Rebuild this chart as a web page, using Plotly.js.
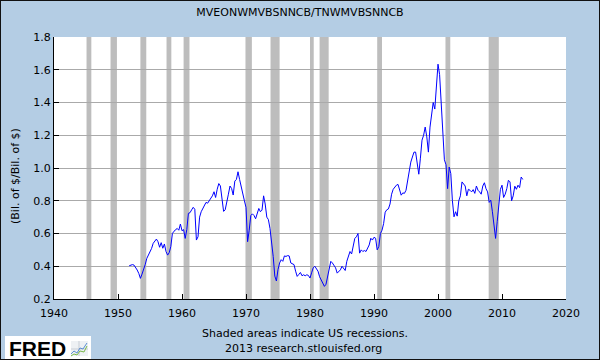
<!DOCTYPE html>
<html>
<head>
<meta charset="utf-8">
<script src="https://cdn.plot.ly/plotly-3.0.1.min.js"></script>
<style>
  html, body { margin: 0; padding: 0; background: #b4cde4; }
  #wrap { position: relative; width: 600px; height: 360px; }
  #chart { width: 600px; height: 360px; }
  #frame { position: absolute; left: 0; top: 0; width: 600px; height: 360px; box-sizing: border-box; border: 1px solid #111; pointer-events: none; }
</style>
</head>
<body>
<div id="wrap"><div id="chart"></div><div id="frame"></div></div>
<script>
// Quarterly ratio MVEONWMVBSNNCB / TNWMVBSNNCB, first value is 1951 Q4
const firstQuarter = 1951.75;
const q1950s = [0.403,
  0.409, 0.41, 0.407, 0.393,
  0.377, 0.356, 0.326, 0.352,
  0.377, 0.41, 0.448, 0.468,
  0.483, 0.509, 0.54, 0.556,
  0.566, 0.55, 0.516, 0.544,
  0.51, 0.536, 0.49, 0.468,
  0.483, 0.52, 0.60, 0.614,
  0.624, 0.631, 0.62, 0.658];
const q1960s = [
  0.617, 0.624, 0.57, 0.624,
  0.723, 0.727, 0.744, 0.76,
  0.748, 0.56, 0.58, 0.70,
  0.733, 0.753, 0.773, 0.79,
  0.785, 0.80, 0.814, 0.83,
  0.855, 0.82, 0.87, 0.905,
  0.89, 0.825, 0.735, 0.745,
  0.785, 0.84, 0.89, 0.875,
  0.835, 0.92, 0.93, 0.977,
  0.93, 0.88, 0.835, 0.80];
const q1970s = [
  0.76, 0.55, 0.62, 0.71,
  0.72, 0.71, 0.69, 0.727,
  0.753, 0.733, 0.743, 0.83,
  0.78, 0.70, 0.685, 0.63,
  0.55, 0.46, 0.34, 0.31,
  0.38, 0.42, 0.44, 0.43,
  0.463, 0.46, 0.465, 0.463,
  0.42, 0.415, 0.41, 0.37,
  0.338, 0.35, 0.362, 0.342,
  0.348, 0.342, 0.348, 0.344];
const q1980s = [
  0.328, 0.36, 0.39, 0.40,
  0.385, 0.37, 0.336, 0.317,
  0.29, 0.277, 0.29, 0.34,
  0.378, 0.43, 0.42, 0.40,
  0.39, 0.358, 0.37, 0.378,
  0.40, 0.39, 0.374, 0.43,
  0.46, 0.49, 0.475, 0.53,
  0.57, 0.58, 0.60, 0.48,
  0.50, 0.49, 0.496, 0.49,
  0.51, 0.53, 0.571, 0.56];
const q1990s = [
  0.577, 0.571, 0.50, 0.52,
  0.60, 0.62, 0.66, 0.73,
  0.745, 0.75, 0.78, 0.84,
  0.87, 0.885, 0.895, 0.90,
  0.864, 0.834, 0.848, 0.845,
  0.864, 0.92, 0.986, 1.036,
  1.067, 1.097, 1.097, 1.03,
  0.962, 1.06, 1.17, 1.20,
  1.25, 1.19, 1.097, 1.25,
  1.32, 1.40, 1.36, 1.52];
const q2000s = [
  1.634, 1.57, 1.37, 1.229,
  1.05, 1.02, 0.874, 1.006,
  0.966, 0.80, 0.702, 0.733,
  0.706, 0.80, 0.83, 0.915,
  0.90, 0.89, 0.83, 0.87,
  0.864, 0.854, 0.868, 0.845,
  0.89, 0.864, 0.854, 0.84,
  0.89, 0.91, 0.874, 0.854,
  0.79, 0.804, 0.733, 0.65,
  0.57, 0.672, 0.80, 0.87];
const q2010s = [
  0.895, 0.82, 0.84, 0.874,
  0.925, 0.915, 0.80, 0.83,
  0.889, 0.87, 0.895, 0.88,
  0.945, 0.93];

// NBER recessions (decimal years)
const recStart = [1945.083, 1948.833, 1953.5, 1957.583, 1960.25, 1969.917, 1973.833, 1980.0, 1981.5, 1990.5, 2001.167, 2007.917];
const recEnd   = [1945.833, 1949.833, 1954.417, 1958.333, 1961.167, 1970.917, 1975.25, 1980.583, 1982.917, 1991.25, 2001.917, 2009.5];

const xTickVals = [1940, 1950, 1960, 1970, 1980, 1990, 2000, 2010, 2020];
const yTickVals = [0.2, 0.4, 0.6, 0.8, 1.0, 1.2, 1.4, 1.6, 1.8];

const titleText = 'MVEONWMVBSNNCB/TNWMVBSNNCB';
const yTitleText = '(Bil. of $/Bil. of $)';
const noteLine1 = 'Shaded areas indicate US recessions.';
const noteLine2 = '2013 research.stlouisfed.org';

const values = [].concat(q1950s, q1960s, q1970s, q1980s, q1990s, q2000s, q2010s);
const dates = values.map((v, i) => firstQuarter + i * 0.25);

// layout geometry (pixels)
const W = 600, H = 360, L = 54, R = 34, T = 37, B = 61;
const PW = W - L - R, PH = H - T - B;
const px = x => (x - L) / PW;
const py = y => (H - B - y) / PH;

const FONT = 'DejaVu Sans, sans-serif';

const shapes = recStart.map((s, i) => ({
  type: 'rect', xref: 'x', yref: 'paper', x0: s, x1: recEnd[i], y0: 0, y1: 1,
  fillcolor: '#bdbdbd', line: {width: 0}, layer: 'between'
}));

// FRED logo box and icon
shapes.push({type: 'rect', xref: 'paper', yref: 'paper', x0: px(5), x1: px(91), y0: py(336), y1: py(359),
  fillcolor: '#ffffff', line: {width: 0}, layer: 'above'});
shapes.push({type: 'rect', xref: 'paper', yref: 'paper', x0: px(71), x1: px(88), y0: py(341), y1: py(356),
  fillcolor: '#eef1f4', line: {width: 0}, layer: 'above'});
function pathFrom(pts) {
  return pts.map((p, i) => (i ? 'L' : 'M') + px(p[0]).toFixed(5) + ',' + py(p[1]).toFixed(5)).join(' ');
}
shapes.push({type: 'path', xref: 'paper', yref: 'paper', layer: 'above',
  path: pathFrom([[71, 349], [88, 349]]), line: {color: '#c9ced6', width: 1}});
shapes.push({type: 'path', xref: 'paper', yref: 'paper', layer: 'above',
  path: pathFrom([[79, 341], [79, 356]]), line: {color: '#c9ced6', width: 1}});
shapes.push({type: 'path', xref: 'paper', yref: 'paper', layer: 'above',
  path: pathFrom([[71, 354], [74, 351], [77, 353], [80, 348], [83, 349], [87, 343]]), line: {color: '#5b8fd1', width: 1}});
shapes.push({type: 'path', xref: 'paper', yref: 'paper', layer: 'above',
  path: pathFrom([[71, 356], [74, 354], [77, 355], [80, 351], [84, 352], [87, 346]]), line: {color: '#79b84a', width: 1}});

const annotations = [
  {text: yTitleText, xref: 'paper', yref: 'paper', x: px(15), y: py(176), textangle: -90,
   showarrow: false, xanchor: 'center', yanchor: 'middle', font: {family: FONT, size: 11, color: '#000'}},
  {text: noteLine1, xref: 'paper', yref: 'paper', x: px(305), y: py(333),
   showarrow: false, xanchor: 'center', yanchor: 'middle', font: {family: FONT, size: 11, color: '#000'}},
  {text: noteLine2, xref: 'paper', yref: 'paper', x: px(303), y: py(348),
   showarrow: false, xanchor: 'center', yanchor: 'middle', font: {family: FONT, size: 11, color: '#000'}},
  {text: '<b>FRED</b>', xref: 'paper', yref: 'paper', x: px(37), y: py(348),
   showarrow: false, xanchor: 'center', yanchor: 'middle',
   font: {family: 'Liberation Sans, Arial, sans-serif', size: 21, color: '#000'}}
];

const trace = {
  x: dates, y: values, type: 'scatter', mode: 'lines',
  line: {color: '#0000ff', width: 1}, hoverinfo: 'x+y'
};

const layout = {
  width: W, height: H,
  margin: {l: L, r: R, t: T, b: B, pad: 0},
  paper_bgcolor: '#b4cde4', plot_bgcolor: '#ffffff',
  showlegend: false,
  font: {family: FONT, size: 11, color: '#000'},
  title: {text: titleText, x: 0.5, xref: 'container', xanchor: 'center',
          y: 1 - 12 / H, yref: 'container', yanchor: 'middle',
          font: {family: FONT, size: 11, color: '#000'}},
  xaxis: {range: [1940, 2020], tickvals: xTickVals, ticktext: xTickVals.map(String),
          showgrid: false, zeroline: false, showline: true, linecolor: '#000', linewidth: 1,
          ticks: 'inside', ticklen: 5, tickcolor: '#000', tickwidth: 1, ticklabelstandoff: 4,
          tickfont: {family: FONT, size: 11, color: '#000'}, fixedrange: true},
  yaxis: {range: [0.2, 1.8], tickvals: yTickVals, tickformat: '.1f',
          showgrid: true, gridcolor: '#aaaaaa', gridwidth: 1, zeroline: false,
          showline: true, linecolor: '#000', linewidth: 1,
          ticks: 'inside', ticklen: 5, tickcolor: '#000', tickwidth: 1,
          tickfont: {family: FONT, size: 11, color: '#000'}, fixedrange: true},
  shapes: shapes,
  annotations: annotations
};

Plotly.newPlot('chart', [trace], layout, {displayModeBar: false, staticPlot: true});
</script>
</body>
</html>
